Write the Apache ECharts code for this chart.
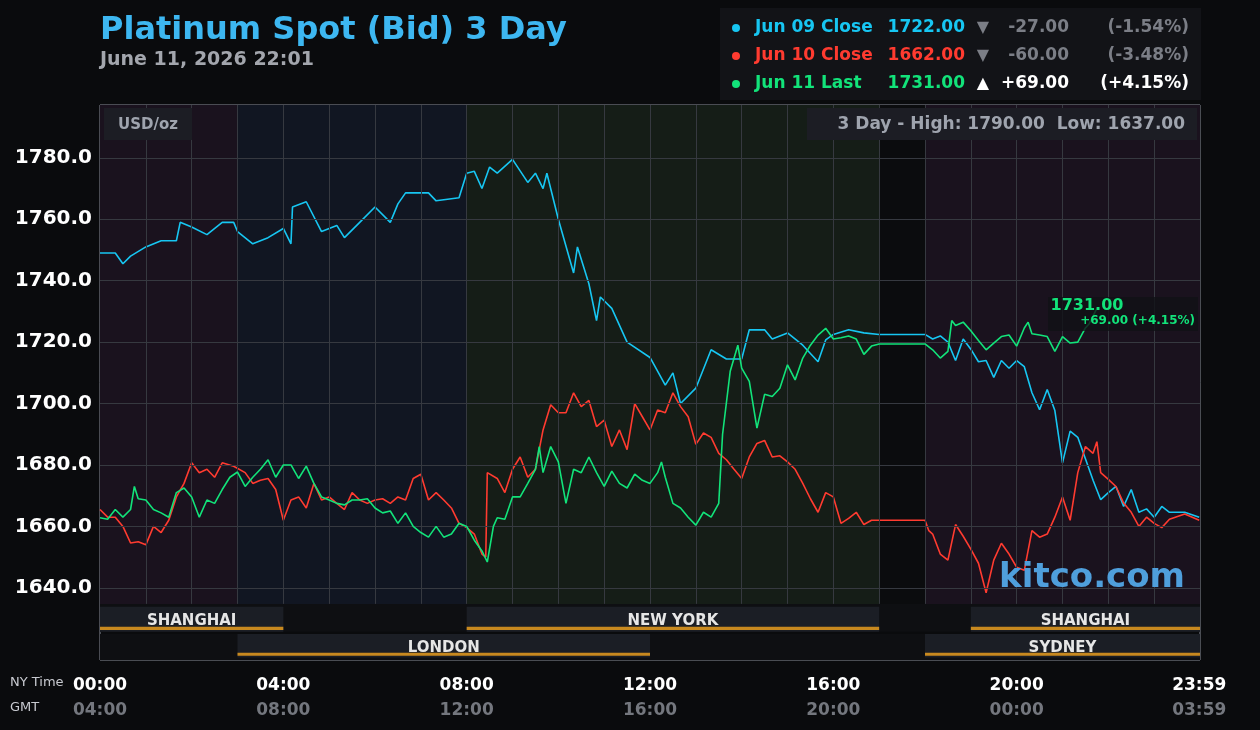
<!DOCTYPE html>
<html>
<head>
<meta charset="utf-8">
<title>Platinum Spot (Bid) 3 Day</title>
<script src="https://cdn.jsdelivr.net/npm/echarts@6/dist/echarts.min.js"></script>
</head>
<body style="margin:0;background:#0a0b0d;">
<div id="container" style="width:1260px;height:730px;"></div>
<script>
// minutes after 00:00 NY time
var jun09Min = [0,20,30,40,60,80,100,105,120,140,160,175,180,200,220,240,250,252,270,290,310,320,340,360,380,390,400,430,440,470,480,490,500,510,520,540,560,570,580,585,600,620,625,640,650,655,670,690,720,740,750,760,780,800,820,840,850,870,880,900,920,940,950,960,980,1000,1020,1080,1090,1100,1110,1120,1130,1140,1150,1160,1170,1180,1190,1200,1210,1220,1230,1240,1250,1260,1270,1280,1290,1300,1310,1320,1330,1340,1350,1360,1370,1380,1390,1400,1420,1439];
var jun09Val = [1749,1749,1745.5,1748,1751,1753,1753,1759,1757.5,1755,1759,1759,1756,1752,1754,1757,1752,1764,1765.7,1756,1758,1754,1759,1764,1759,1765,1768.6,1768.6,1766,1767,1775,1775.6,1770,1777,1775,1779.5,1772,1775,1770,1775,1760,1742.5,1751,1739,1727,1734.7,1731,1720,1715,1706,1710,1700,1705,1717.5,1714.5,1714.5,1724,1724,1721,1723,1719,1713.6,1720.7,1722.5,1724,1723,1722.5,1722.5,1721,1722,1720,1714,1721,1717.7,1713.6,1714,1708.5,1714,1711.5,1714,1712,1703.5,1698,1704.6,1697.7,1680.7,1691,1689,1682,1675,1668.7,1671,1673,1666.5,1672,1664.6,1665.7,1663,1666.5,1664.6,1664.6,1663];

var jun10Min = [0,10,20,30,40,50,60,70,80,90,100,110,120,130,140,150,160,175,190,200,210,220,230,240,250,260,270,280,290,300,310,320,330,340,350,360,370,380,390,400,410,420,430,440,450,460,470,480,490,500,505,507,520,530,540,550,560,570,580,590,600,610,620,630,640,650,660,670,680,690,700,710,720,730,740,750,760,770,780,790,800,810,820,830,840,850,860,870,880,890,900,910,920,930,940,950,960,970,980,990,1000,1010,1020,1080,1085,1090,1100,1110,1120,1130,1140,1150,1160,1170,1180,1190,1200,1210,1220,1230,1240,1250,1260,1270,1280,1290,1300,1305,1310,1320,1330,1340,1350,1360,1370,1380,1390,1400,1420,1439];
var jun10Val = [1665.5,1663,1663,1660,1654.6,1655,1654,1660,1658,1662,1669.6,1674,1680.7,1677.5,1678.6,1676,1680.7,1679.6,1677.5,1674,1675,1675.6,1672,1662,1668.6,1669.6,1666,1674,1668.6,1669.6,1667.5,1665.5,1671,1668.6,1667.5,1668.6,1669,1667.5,1669.6,1668.6,1675.6,1677,1668.6,1671,1668.6,1666,1661,1659.6,1657.5,1651,1650,1677.5,1675.6,1671,1678.6,1682.6,1676,1678.6,1691.4,1699.6,1697,1697,1703.5,1699,1701,1692.5,1694.6,1686,1691.4,1685,1700,1695.7,1691.4,1697.9,1697,1703.5,1699,1695.7,1686.7,1690.4,1689,1683.8,1681.7,1678.6,1675.6,1682.6,1687,1688,1682.6,1683,1681,1678.6,1674,1669,1664.6,1671,1669.6,1661,1662.6,1664.6,1660.6,1662,1662,1662,1658.6,1657.5,1651,1649,1660.6,1656.8,1652.6,1648,1638.4,1649,1654.5,1651,1646.7,1645.7,1658.6,1656.5,1657.5,1663,1669.6,1662,1677.5,1686,1683.8,1687.6,1677.5,1675.3,1673,1667.6,1664.6,1660,1663,1661,1659.6,1662.3,1664,1662];

var jun11Min = [0,10,20,30,40,45,50,60,70,80,90,100,110,120,130,140,150,160,170,180,190,200,210,220,230,240,250,260,270,280,290,300,310,320,330,340,350,360,370,380,390,400,410,420,430,440,450,460,470,480,490,500,507,515,520,530,540,550,560,570,575,580,590,600,610,620,630,640,650,660,670,680,690,700,710,720,730,735,740,750,760,770,780,790,800,810,815,825,835,840,850,860,870,880,890,900,910,920,930,940,950,960,970,980,990,1000,1010,1020,1080,1090,1100,1110,1115,1120,1130,1140,1150,1160,1170,1180,1190,1200,1210,1215,1220,1230,1240,1250,1260,1270,1280,1290,1295,1305];
var jun11Val = [1662.8,1662.3,1665.5,1663,1665.5,1673,1669,1668.6,1665.5,1664.4,1663,1671,1672.5,1669.6,1663,1668.6,1667.5,1672,1676,1677.7,1673,1676,1678.6,1681.7,1676,1680,1680,1675.6,1679.6,1674,1669.6,1668.6,1667.5,1667,1668.6,1668.6,1669,1666,1664.4,1665,1661,1664.4,1660,1658,1656.5,1660,1656.5,1657.5,1661,1660,1655.5,1652,1648.4,1660,1662.8,1662.3,1669.6,1669.6,1674,1678.6,1686,1677.5,1686,1681,1667.5,1678.6,1677.5,1682.6,1677.5,1673,1678,1674,1672.5,1677,1675,1674,1677.5,1681,1676,1667.5,1666,1663,1660.4,1664.6,1663,1667.5,1690,1710.5,1719,1711.5,1707.2,1692,1703,1702.3,1705,1712.6,1707.7,1714.8,1719,1722.3,1724.5,1721,1721.4,1722,1721,1716,1718.7,1719.4,1719.4,1717.5,1714.8,1717,1727,1725.4,1726.5,1723.7,1720.5,1717.5,1719.7,1721.8,1722.3,1718.7,1724.6,1726.5,1722.7,1722.3,1721.8,1717,1721.8,1719.7,1720,1724.6,1726,1731];

var yTicks = [1640,1660,1680,1700,1720,1740,1760,1780];
var xTicks = [0,240,480,720,960,1200,1439];
var nyLabels = ['00:00','04:00','08:00','12:00','16:00','20:00','23:59'];
var gmtLabels = ['04:00','08:00','12:00','16:00','20:00','00:00','03:59'];

// background sessions [from, to, colour]
var bands = [[0,180,'#1a121e'],[180,480,'#111622'],[480,1020,'#151d17'],[1020,1080,'#0b0c0e'],[1080,1440,'#1a121e']];
var sessTop = [['SHANGHAI',0,240],['NEW YORK',480,1020],['SHANGHAI',1140,1440]];
var sessBot = [['LONDON',180,720],['SYDNEY',1080,1440]];

function pair(a, b) { return a.map(function (m, i) { return [m, b[i]]; }); }

var Y_MIN = 1616.5, Y_MAX = 1797.2, Y_PLOT = 1634.77;
var FONT = '"DejaVu Sans"';

var bgAreas = bands.map(function (b) {
  return [{ xAxis: b[0], yAxis: Y_PLOT, itemStyle: { color: b[2] } }, { xAxis: b[1], yAxis: Y_MAX }];
});
// session rows
var rowAreas = [
  [{ xAxis: 0, yAxis: 1625.7, itemStyle: { color: '#0e0f12' } }, { xAxis: 1440, yAxis: Y_PLOT }],
  [{ xAxis: 0, yAxis: Y_MIN, itemStyle: { color: '#0e0f12' } }, { xAxis: 1440, yAxis: 1625.0 }]
];
function sessAreas(list, lo, hi, lineLo, lineHi) {
  var out = [];
  list.forEach(function (s) {
    out.push([{ xAxis: s[1], yAxis: lo, name: s[0], itemStyle: { color: '#1b1e25' },
      label: { show: true, position: 'inside', color: '#e6e6e6', fontWeight: 'bold', fontSize: 15, fontFamily: 'DejaVu Sans', offset: [0, 2] } },
      { xAxis: s[2], yAxis: hi }]);
    out.push([{ xAxis: s[1], yAxis: lineLo, itemStyle: { color: '#c8891f' }, label: { show: false } }, { xAxis: s[2], yAxis: lineHi }]);
  });
  return out;
}
var sessionAreas = rowAreas.concat(sessAreas(sessTop, 1625.7, 1633.8, 1626.3, 1627.3))
  .concat(sessAreas(sessBot, 1617.3, 1625.0, 1617.9, 1618.9));

var gridLines = [];
for (var h = 60; h < 1440; h += 60) gridLines.push([{ coord: [h, Y_PLOT] }, { coord: [h, Y_MAX] }]);
yTicks.forEach(function (v) { gridLines.push([{ coord: [0, v] }, { coord: [1440, v] }]); });

function txt(x, y, s, fill, font, align) {
  return { type: 'text', x: x, y: y, z: 21, style: { text: s, fill: fill, font: font, align: align || 'left', verticalAlign: 'middle' } };
}
var LF = 'bold 17px ' + FONT;

var dom = document.getElementById('container');
var myChart = echarts.init(dom);
var option = {
  backgroundColor: '#0a0b0d',
  animation: false,
  grid: { left: 100, right: 60, top: 105, bottom: 70, show: true, borderColor: '#8a8f9a', borderWidth: 1, backgroundColor: 'transparent' },
  xAxis: {
    type: 'value', min: 0, max: 1440,
    splitLine: { show: false }, axisTick: { show: false }, axisLine: { show: false },
    axisLabel: {
      customValues: xTicks, margin: 13,
      formatter: function (v) {
        var i = xTicks.indexOf(v);
        return i < 0 ? '' : '{a|' + nyLabels[i] + '}\n{b|' + gmtLabels[i] + '}';
      },
      rich: {
        a: { color: '#ffffff', fontWeight: 'bold', fontSize: 17, lineHeight: 25, fontFamily: 'DejaVu Sans' },
        b: { color: '#74777e', fontWeight: 'bold', fontSize: 17, lineHeight: 25, fontFamily: 'DejaVu Sans' }
      }
    }
  },
  yAxis: {
    type: 'value', min: Y_MIN, max: Y_MAX,
    splitLine: { show: false }, axisTick: { show: false }, axisLine: { show: false },
    axisLabel: {
      customValues: yTicks, margin: 8, color: '#ffffff', fontWeight: 'bold', fontSize: 20, fontFamily: 'DejaVu Sans',
      formatter: function (v) { return v.toFixed(1); }
    }
  },
  series: [
    { type: 'line', data: [], silent: true, z: 1,
      markArea: { silent: true, data: bgAreas } },
    { type: 'line', data: [], silent: true, z: 2,
      markLine: { silent: true, symbol: 'none', label: { show: false },
        lineStyle: { color: '#363940', width: 1, type: 'solid' }, data: gridLines } },
    { name: 'Jun 09 Close', type: 'line', data: pair(jun09Min, jun09Val), showSymbol: false, z: 3,
      lineStyle: { color: '#17c6f2', width: 1.6 }, itemStyle: { color: '#17c6f2' } },
    { name: 'Jun 10 Close', type: 'line', data: pair(jun10Min, jun10Val), showSymbol: false, z: 4,
      lineStyle: { color: '#ff3b30', width: 1.6 }, itemStyle: { color: '#ff3b30' } },
    { name: 'Jun 11 Last', type: 'line', data: pair(jun11Min, jun11Val), showSymbol: false, z: 5,
      lineStyle: { color: '#12e37a', width: 1.6 }, itemStyle: { color: '#12e37a' } },
    { type: 'line', data: [], silent: true, z: 6,
      markArea: { silent: true, data: sessionAreas } }
  ],
  graphic: [
    txt(100, 31, 'Platinum Spot (Bid) 3 Day', '#3db7f1', 'bold 32px ' + FONT),
    txt(100, 60, 'June 11, 2026 22:01', '#a3a6ad', 'bold 19px ' + FONT),
    { type: 'rect', shape: { x: 720, y: 8, width: 481, height: 92 }, style: { fill: '#121317' } },
    { type: 'circle', z: 21, shape: { cx: 736, cy: 28, r: 4 }, style: { fill: '#17c6f2' } },
    { type: 'circle', z: 21, shape: { cx: 736, cy: 56, r: 4 }, style: { fill: '#ff3b30' } },
    { type: 'circle', z: 21, shape: { cx: 736, cy: 84, r: 4 }, style: { fill: '#12e37a' } },
    txt(755, 28, 'Jun 09 Close', '#17c6f2', LF), txt(755, 56, 'Jun 10 Close', '#ff3b30', LF), txt(755, 84, 'Jun 11 Last', '#12e37a', LF),
    txt(965, 28, '1722.00', '#17c6f2', LF, 'right'), txt(965, 56, '1662.00', '#ff3b30', LF, 'right'), txt(965, 84, '1731.00', '#12e37a', LF, 'right'),
    txt(983, 28, '▼', '#7b7e86', '16px ' + FONT, 'center'), txt(983, 56, '▼', '#7b7e86', '16px ' + FONT, 'center'), txt(983, 84, '▲', '#ffffff', '16px ' + FONT, 'center'),
    txt(1069, 28, '-27.00', '#7b7e86', LF, 'right'), txt(1069, 56, '-60.00', '#7b7e86', LF, 'right'), txt(1069, 84, '+69.00', '#ffffff', LF, 'right'),
    txt(1189, 28, '(-1.54%)', '#7b7e86', LF, 'right'), txt(1189, 56, '(-3.48%)', '#7b7e86', LF, 'right'), txt(1189, 84, '(+4.15%)', '#ffffff', LF, 'right'),
    { type: 'rect', z: 20, shape: { x: 104, y: 108, width: 88, height: 32 }, style: { fill: '#1c1d24' } },
    txt(148, 125, 'USD/oz', '#9fa4ae', 'bold 15px ' + FONT, 'center'),
    { type: 'rect', z: 20, shape: { x: 807, y: 108, width: 390, height: 32 }, style: { fill: '#1c1d24' } },
    txt(1185, 125, '3 Day - High: 1790.00  Low: 1637.00', '#9fa4ae', 'bold 17px ' + FONT, 'right'),
    { type: 'rect', z: 20, shape: { x: 1048, y: 297, width: 150, height: 34 }, style: { fill: 'rgba(16,17,21,0.8)' } },
    txt(1087, 306, '1731.00', '#12e37a', 'bold 16px ' + FONT, 'center'),
    txt(1195, 321, '+69.00 (+4.15%)', '#12e37a', 'bold 12px ' + FONT, 'right'),
    txt(1185, 578, 'kitco.com', '#4f9fdc', 'bold 34px ' + FONT, 'right'),
    txt(10, 683, 'NY Time', '#c8cad0', '13px ' + FONT),
    txt(10, 708, 'GMT', '#c8cad0', '13px ' + FONT)
  ]
};
myChart.setOption(option, true);
</script>
</body>
</html>
